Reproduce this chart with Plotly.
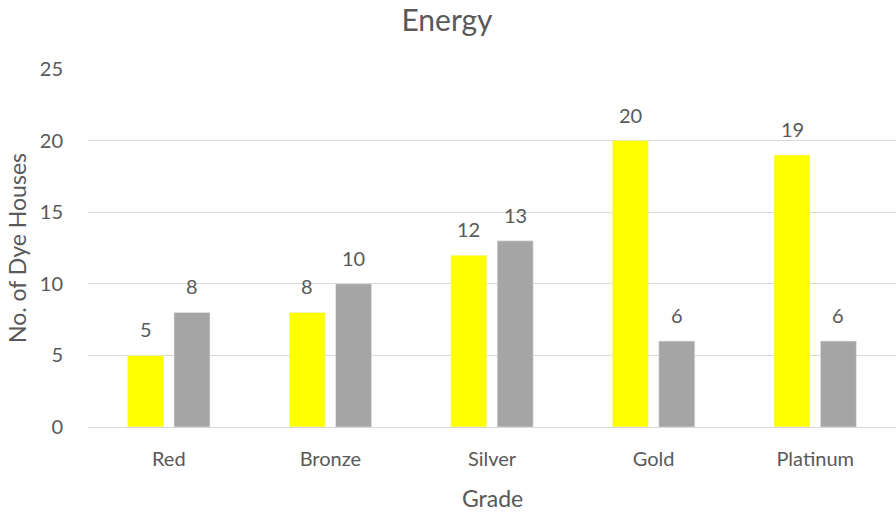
import plotly.graph_objects as go

# Chart data
grades = ["Red", "Bronze", "Silver", "Gold", "Platinum"]
series_a = [5, 8, 12, 20, 19]
series_b = [8, 10, 13, 6, 6]
y_ticks = [0, 5, 10, 15, 20, 25]

YELLOW = "#FFFF00"
GREY = "#A5A5A5"
TEXT = "#595959"
GRID = "#D9D9D9"
FONT = "Lato"

W, H = 896, 519
M_L, M_R, M_T, M_B = 88, 0, 69, 92
PLOT_W = W - M_L - M_R
PLOT_H = H - M_T - M_B
BARGAP = 0.426
BARGROUPGAP = 0.224

fig = go.Figure()
fig.add_trace(go.Bar(x=grades, y=series_a, marker_color=YELLOW, name="A"))
fig.add_trace(go.Bar(x=grades, y=series_b, marker_color=GREY, name="B"))

# value labels above each bar, shifted to the centre of its bar within the group
cat_w = PLOT_W / len(grades)
slot = (1 - BARGAP) * cat_w / 2
annotations = []
for vals, dx in ((series_a, -slot / 2), (series_b, slot / 2)):
    for g, v in zip(grades, vals):
        annotations.append(dict(
            x=g, y=v, xref="x", yref="y", text=str(v), showarrow=False,
            xanchor="center", yanchor="bottom", xshift=dx, yshift=12,
            font=dict(family=FONT, size=20, color=TEXT),
        ))

# axis titles (paper coordinates span the plot area)
annotations.append(dict(
    x=0.5, y=-(498 - M_T - PLOT_H) / PLOT_H, xref="paper", yref="paper",
    text="Grade", showarrow=False, xanchor="center", yanchor="middle",
    font=dict(family=FONT, size=23, color=TEXT),
))
annotations.append(dict(
    x=(17 - M_L) / PLOT_W, y=0.5, xref="paper", yref="paper",
    text="No. of Dye Houses", showarrow=False, textangle=-90,
    xanchor="center", yanchor="middle",
    font=dict(family=FONT, size=23, color=TEXT),
))

fig.update_layout(
    width=W, height=H,
    margin=dict(l=M_L, r=M_R, t=M_T, b=M_B, pad=0),
    paper_bgcolor="white", plot_bgcolor="white",
    barmode="group", bargap=BARGAP, bargroupgap=BARGROUPGAP,
    showlegend=False,
    title=dict(text="Energy", x=447 / W, xref="container", xanchor="center",
               y=1 - 20 / H, yref="container", yanchor="middle",
               font=dict(family=FONT, size=30, color=TEXT)),
    font=dict(family=FONT, color=TEXT),
    annotations=annotations,
)
fig.update_xaxes(
    showgrid=False, showline=False, zeroline=False,
    ticks="", ticklabelstandoff=18,
    tickfont=dict(family=FONT, size=20, color=TEXT),
)
fig.update_yaxes(
    range=[0, 25], tickvals=y_ticks, ticktext=[str(t) for t in y_ticks],
    showgrid=True, gridcolor=GRID, gridwidth=1.3,
    zeroline=True, zerolinecolor=GRID, zerolinewidth=1.3,
    showline=False, ticks="", ticklabelstandoff=24,
    tickfont=dict(family=FONT, size=20, color=TEXT),
)

fig.write_html("out.html")
